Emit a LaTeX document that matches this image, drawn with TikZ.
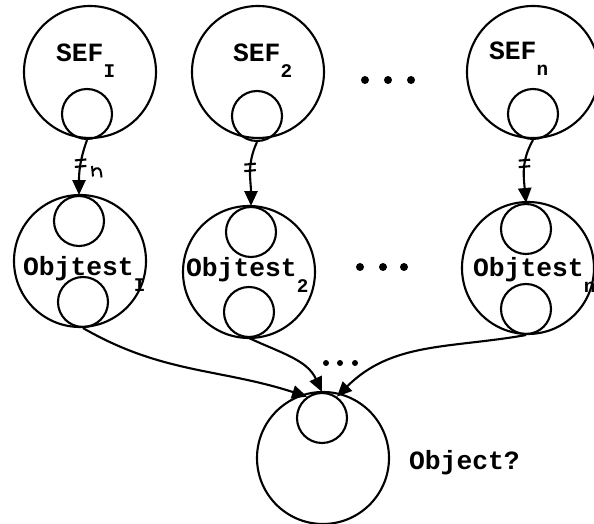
\documentclass[tikz,border=0pt]{standalone}
\usepackage{fontspec}
\setmonofont{Liberation Mono}
\usetikzlibrary{arrows.meta}
\newcommand{\lowsub}[1]{\raisebox{-9pt}{\fontsize{11}{13}\selectfont #1}}

\begin{document}
\begin{tikzpicture}[line width=1.2pt,inner sep=0pt,
  bigring/.style={circle,draw=black,minimum size=2.64cm},
  port/.style={circle,draw=black,minimum size=1cm},
  blob/.style={circle,fill=black,minimum size=.16cm},
  tag/.style={anchor=base west,font=\fontsize{15}{18}\ttfamily\bfseries},
  feed/.style={-{Triangle[length=8.5pt,width=7.5pt]}}]
\clip (0,0) rectangle (11.88,10.48);
% event finders, top row
\node at (1.80,9.04) [bigring] (Sef1) {};
\node at (5.16,9.04) [bigring] (Sef2) {};
\node at (10.66,9.04) [bigring] (Sefn) {};
\node at (1.74,8.20) [port] (Sef1out) {};
\node at (5.14,8.16) [port] (Sef2out) {};
\node at (10.66,8.20) [port] (Sefnout) {};
\node [tag] at (1.10,9.24) (Sef1lab) {SEF\lowsub{I}};
\node [tag] at (4.64,9.24) (Sef2lab) {SEF\lowsub{2}};
\node [tag] at (9.76,9.28) (Sefnlab) {SEF\lowsub{n}};
\node at (7.30,8.88) [blob] (TopDot1) {};
\node at (7.76,8.88) [blob] (TopDot2) {};
\node at (8.22,8.88) [blob] (TopDot3) {};
% object tests, middle row
\node at (1.60,5.26) [bigring] (Test1) {};
\node at (4.98,5.04) [bigring] (Test2) {};
\node at (10.56,5.12) [bigring] (Testn) {};
\node at (1.58,6.06) [port] (Test1in) {};
\node at (5.02,5.84) [port] (Test2in) {};
\node at (10.52,5.90) [port] (Testnin) {};
\node at (1.66,4.44) [port] (Test1out) {};
\node at (4.98,4.24) [port] (Test2out) {};
\node at (10.52,4.30) [port] (Testnout) {};
\node [tag] at (0.44,4.96) (Test1lab) {Objtest\lowsub{I}};
\node [tag] at (3.70,4.94) (Test2lab) {Objtest\lowsub{2}};
\node [tag] at (9.44,4.94) (Testnlab) {Objtest\lowsub{n}};
\node at (7.20,5.14) [blob] (MidDot1) {};
\node at (7.66,5.14) [blob] (MidDot2) {};
\node at (8.08,5.14) [blob] (MidDot3) {};
% result
\node at (6.46,1.32) [bigring] (Obj) {};
\node at (6.44,2.12) [port] (Objin) {};
\node [tag] at (8.16,1.08) (Objlab) {Object?};
\node at (6.52,3.22) [blob,minimum size=.12cm] (LowDot1) {};
\node at (6.80,3.22) [blob,minimum size=.12cm] (LowDot2) {};
\node at (7.10,3.22) [blob,minimum size=.12cm] (LowDot3) {};
% finder -> test
\draw [feed] (Sef1out.south) to[out=-110,in=90] coordinate[pos=.42] (cut1) (Test1in.north);
\draw [feed] (Sef2out.south) to[out=-115,in=90] coordinate[pos=.40] (cut2) (Test2in.north);
\draw [feed] (Sefnout.south) to[out=-120,in=95] coordinate[pos=.38] (cutn) (Testnin.north);
\foreach \c in {cut1,cut2,cutn}{
  \draw ([shift={(-.12,.05)}]\c) -- ++(.23,.02);
  \draw ([shift={(-.12,-.08)}]\c) -- ++(.23,.02);
}
\draw [line width=1.1pt] (1.84,7.16) -- (1.86,6.95) (1.86,7.06) .. controls (1.92,7.16) and (2.02,7.12) .. (2.02,7.02) -- (2.03,6.93);
% test -> result
\draw [feed] (Test1out.south) to[out=-30,in=162] (Objin.125);
\draw [feed] (Test2out.south) to[out=-25,in=115] (Objin.north);
\draw [feed] (Testnout.south) to[out=190,in=45] (Objin.55);
\end{tikzpicture}
\end{document}
